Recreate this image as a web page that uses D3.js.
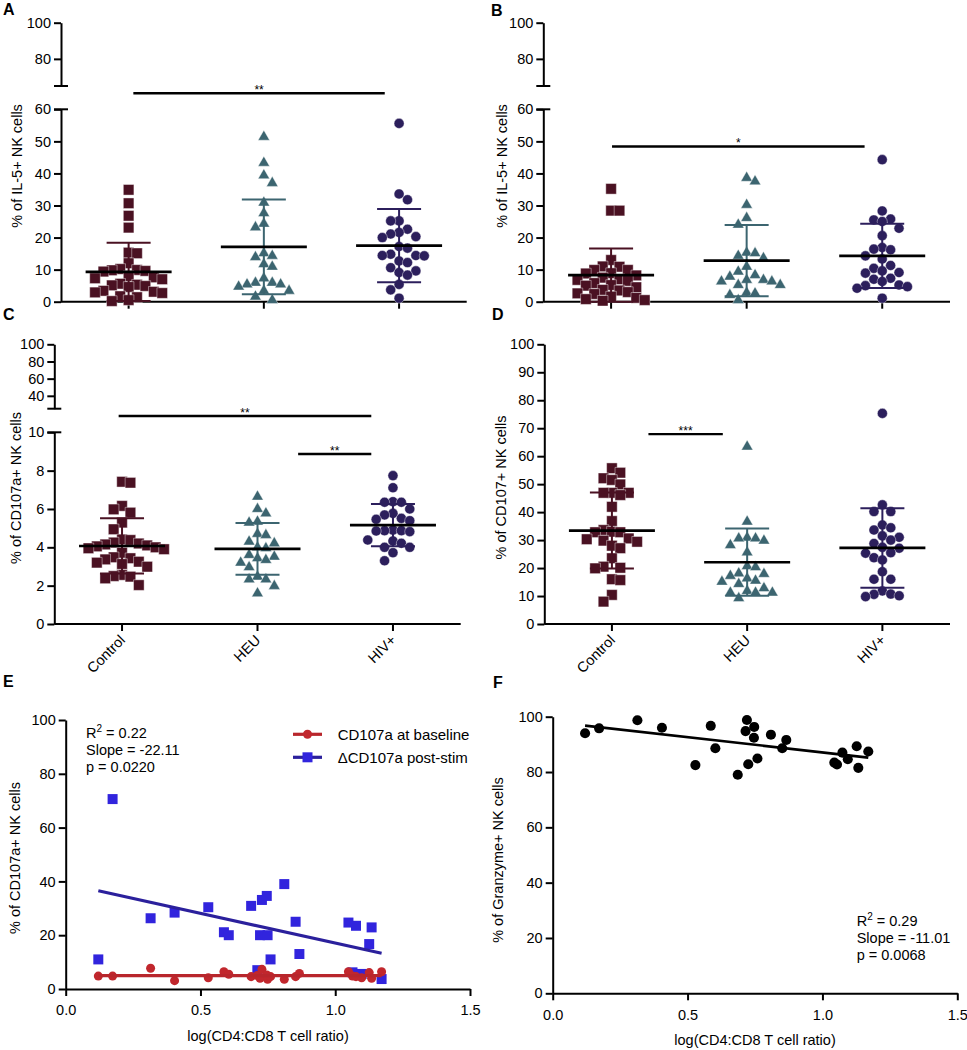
<!DOCTYPE html>
<html><head><meta charset="utf-8">
<script src="https://cdn.jsdelivr.net/npm/d3@7"></script>
<style>body{margin:0;background:#fff} svg{display:block}</style>
</head><body><svg id="c" width="967" height="1050"></svg>
<script>
const FONT = '"Liberation Sans", Arial, Helvetica, sans-serif';
const categories = ["Control", "HEU", "HIV+"];

// ---- Panel A: % of IL-5+ NK cells
const aControl = [34.9, 30.7, 26.8, 23.1, 15.3, 15.1, 12.0, 10.2, 9.9, 9.8, 9.6, 9.4, 8.0, 7.6, 7.3, 7.0, 5.6, 5.3, 5.1, 4.9, 4.6, 3.4, 3.1, 2.9, 2.7, 1.7, 1.4, 0.5, 0.2];
const aHEU = [51.4, 43.3, 39.4, 37.0, 30.9, 27.6, 24.3, 23.2, 15.1, 14.3, 13.9, 11.7, 10.9, 7.3, 5.9, 5.9, 5.4, 5.4, 4.7, 3.4, 3.4, 1.6, 0.5];
const aHIV = [55.6, 33.6, 31.8, 25.2, 25.2, 21.6, 22.6, 20.3, 20.0, 21.1, 16.7, 17.2, 14.4, 14.3, 14.4, 14.8, 12.7, 12.2, 10.6, 9.1, 8.3, 9.6, 5.4, 3.7, 1.1];
const aMean = [9.3, 17.1, 17.5];
const aSD = [9.1, 14.8, 11.4];
const aBrackets = [{from: 0.035, to: 1.894, y: 65, label: "**"}];

// ---- Panel B: % of IL-5+ NK cells
const bControl = [35.2, 28.4, 28.4, 13.0, 11.0, 10.9, 9.9, 9.9, 8.9, 8.8, 8.2, 7.5, 7.0, 6.8, 6.5, 5.8, 5.2, 5.0, 4.5, 3.7, 3.5, 3.0, 2.6, 2.4, 1.6, 1.2, 0.8, 0.5, 0.3];
const bHEU = [38.6, 37.5, 30.2, 26.1, 24.0, 15.1, 15.3, 13.6, 14.3, 10.9, 8.3, 6.8, 6.3, 6.3, 6.8, 7.8, 9.4, 5.2, 5.2, 2.6, 2.8, 2.1, 0.5];
const bHIV = [44.3, 28.3, 25.5, 25.8, 25.0, 22.9, 20.6, 16.4, 16.9, 16.2, 14.3, 13.3, 11.3, 9.6, 8.9, 9.1, 10.4, 7.0, 6.3, 7.3, 5.2, 4.7, 4.2, 5.0, 1.1];
const bMean = [8.3, 12.8, 14.3];
const bSD = [8.3, 11.1, 10.0];
const bBrackets = [{from: 0.007, to: 1.87, y: 48.4, label: "*"}];

// ---- Panel C: % of CD107a+ NK cells
const cControl = [7.42, 7.37, 6.16, 5.98, 5.81, 5.29, 4.94, 4.41, 4.38, 4.25, 4.2, 4.15, 4.1, 4.05, 4.0, 3.95, 3.9, 3.72, 3.43, 3.25, 3.13, 2.99, 3.2, 3.37, 3.48, 2.56, 2.47, 2.38, 2.5, 2.03];
const cHEU = [6.64, 5.77, 6.0, 5.29, 5.34, 4.70, 4.64, 4.30, 4.21, 4.0, 3.95, 3.60, 3.43, 3.51, 3.2, 3.34, 2.96, 2.47, 2.33, 2.33, 1.98, 1.60];
const cHIV = [7.74, 7.11, 6.38, 6.35, 6.35, 6.0, 5.77, 5.69, 5.51, 5.46, 5.39, 4.87, 4.82, 4.9, 4.85, 4.87, 4.38, 4.33, 4.21, 4.0, 4.0, 3.72, 3.3];
const cMean = [4.07, 3.92, 5.16];
const cSD = [1.44, 1.35, 1.1];
const cBrackets = [{from: -0.025, to: 1.84, y: 10.85, label: "**"}, {from: 1.3, to: 1.84, y: 8.87, label: "**"}];

// ---- Panel D: % of CD107+ NK cells
const dControl = [55.7, 54.1, 51.5, 52.1, 49.9, 46.9, 46.9, 46.1, 46.9, 41.9, 36.8, 33.6, 32.8, 32.8, 33.0, 30.6, 29.8, 29.4, 30.3, 28.0, 27.1, 23.5, 20.1, 19.9, 20.5, 16.0, 15.7, 10.4, 8.0];
const dHEU = [63.4, 36.6, 30.6, 29.8, 30.6, 30.9, 28.2, 25.6, 20.3, 20.7, 17.9, 16.3, 17.2, 18.1, 15.5, 14.3, 15.1, 11.8, 11.2, 11.2, 11.2, 12.8, 9.2];
const dHIV = [75.3, 42.6, 40.2, 40.2, 35.4, 33.6, 34.4, 31.0, 30.0, 31.5, 28.8, 27.1, 27.4, 25.3, 25.5, 22.9, 23.7, 18.7, 16.0, 16.0, 11.8, 10.6, 9.8, 10.1, 10.7];
const dMean = [33.4, 22.1, 27.2];
const dSD = [13.6, 12.0, 14.2];
const dBrackets = [{from: 0.27, to: 0.82, y: 67.9, label: "***"}];

// ---- Panel E: CD107a vs log(CD4:CD8)
const eRatio = [0.121, 0.174, 0.315, 0.404, 0.529, 0.587, 0.605, 0.688, 0.711, 0.721, 0.728, 0.746, 0.749, 0.760, 0.811, 0.853, 0.867, 1.049, 1.064, 1.077, 1.098, 1.126, 1.135, 1.172];
const eDelta = [11.0, 70.6, 26.3, 28.4, 30.4, 21.1, 20.0, 30.9, 7.0, 20.0, 33.1, 34.6, 20.0, 11.0, 39.0, 25.0, 13.0, 24.7, 6.2, 23.5, 5.6, 16.7, 22.9, 3.7];
const eBaseline = [4.8, 4.8, 7.7, 3.1, 4.2, 6.4, 5.5, 4.6, 5.0, 4.0, 7.3, 5.2, 3.6, 4.6, 3.6, 4.6, 5.8, 6.4, 4.8, 4.6, 4.2, 6.1, 4.0, 6.4];
const eFitDelta = {slope: -22.11, intercept: 39.2};
const eFitBaseline = {slope: 0.0, intercept: 5.0};
const eSeriesNames = ["CD107a at baseline", "\u0394CD107a post-stim"];
const eStats = ["0.22", "-22.11", "0.0220"];

// ---- Panel F: Granzyme vs log(CD4:CD8)
const fRatio = [0.120, 0.172, 0.314, 0.405, 0.529, 0.586, 0.603, 0.686, 0.715, 0.720, 0.725, 0.746, 0.747, 0.759, 0.809, 0.851, 0.866, 1.044, 1.054, 1.074, 1.094, 1.127, 1.133, 1.170];
const fGranzyme = [94.0, 95.8, 98.7, 96.0, 82.5, 96.7, 88.6, 79.0, 94.8, 98.8, 82.8, 92.4, 96.3, 84.9, 93.5, 88.6, 91.6, 83.4, 82.7, 87.0, 84.6, 89.3, 81.5, 87.4];
const fFit = {slope: -11.01, intercept: 98.1};
const fStats = ["0.29", "-11.01", "0.0068"];

const groupColors = ["#4a1122", "#3c6570", "#2c1f5c"];
const svg = d3.select("#c");
svg.append("rect").attr("width", 967).attr("height", 1050).attr("fill", "#fff");

function styleAxis(ax) {
  ax.attr("font-family", FONT).attr("font-size", 14.5);
  ax.select(".domain").attr("stroke", "#000").attr("stroke-width", 2);
  ax.selectAll(".tick line").attr("stroke", "#000").attr("stroke-width", 2);
  ax.selectAll(".tick text").attr("fill", "#000");
  return ax;
}

// GraphPad-like column scatter: rectangular collision, points spread sideways
function swarm(values, yScale, w, h) {
  const pts = values.map(v => ({v, y: yScale(v)})).sort((a, b) => a.y - b.y);
  const placed = [];
  let side = 1;
  for (const p of pts) {
    const forb = [];
    for (const q of placed) {
      const dy = Math.abs(q.y - p.y);
      if (dy < h) forb.push([q.x - w, q.x + w]);
    }
    const cands = [0];
    forb.forEach(f => cands.push(f[0], f[1]));
    cands.sort((a, b) => (Math.abs(a) - Math.abs(b)) || (side * (b - a)));
    let x = 0;
    for (const c of cands) {
      if (forb.every(f => c <= f[0] + 1e-6 || c >= f[1] - 1e-6)) { x = c; break; }
    }
    if (x !== 0) side = -Math.sign(x);
    p.x = x; placed.push(p);
  }
  return pts;
}

const symbols = [
  d3.symbol(d3.symbolSquare, 112)(),
  d3.symbol(d3.symbolTriangle, 58)(),
  d3.symbol(d3.symbolCircle, 80)()
];

function dotPanel(o) {
  const g = svg.append("g");
  const lower = d3.scaleLinear(o.lowerDomain, o.lowerRange);
  const xp = d3.scalePoint(categories, [o.x0, o.x1]).padding(0.5);
  const xi = d3.scaleLinear([0, 2], [xp(categories[0]), xp(categories[2])]);
  styleAxis(g.append("g").attr("transform", `translate(${o.x0},0)`)
    .call(d3.axisLeft(lower).tickValues(o.lowerTicks).tickSize(7).tickSizeOuter(0).tickPadding(3)));
  if (o.upperDomain) {
    const upper = d3.scaleLinear(o.upperDomain, o.upperRange);
    styleAxis(g.append("g").attr("transform", `translate(${o.x0},0)`)
      .call(d3.axisLeft(upper).tickValues(o.upperTicks).tickSize(7).tickSizeOuter(0).tickPadding(3)));
    [upper(o.upperDomain[0]), lower(o.lowerDomain[1])].forEach(yy => {
      g.append("line").attr("x1", o.x0 - 7).attr("x2", o.x0 + 7).attr("y1", yy).attr("y2", yy)
        .attr("stroke", "#000").attr("stroke-width", 2);
    });
  }
  const y0 = lower(0);
  g.append("line").attr("x1", o.x0).attr("x2", o.x1).attr("y1", y0).attr("y2", y0)
    .attr("stroke", "#000").attr("stroke-width", 2);
  categories.forEach(c => {
    g.append("line").attr("x1", xp(c)).attr("x2", xp(c)).attr("y1", y0).attr("y2", y0 + 7)
      .attr("stroke", "#000").attr("stroke-width", 2);
  });
  if (o.catLabels) {
    categories.forEach(c => {
      g.append("text").attr("transform", `translate(${xp(c) + 4},${y0 + 17}) rotate(-45)`)
        .attr("text-anchor", "end").attr("font-family", FONT).attr("font-size", 14.5).text(c);
    });
  }
  o.groups.forEach((vals, i) => {
    const pts = swarm(vals, lower, 8.4, 10.5);
    g.append("g").selectAll("path").data(pts).join("path")
      .attr("d", symbols[i])
      .attr("transform", d => `translate(${xp(categories[i]) + d.x},${d.y})`)
      .attr("fill", groupColors[i]).attr("stroke", "#fff").attr("stroke-width", 0.6).attr("stroke-opacity", 0.7);
  });
  o.means.forEach((m, i) => {
    const cx = xp(categories[i]);
    const hi = lower(m + o.sds[i]), lo = lower(Math.max(0, m - o.sds[i]));
    const col = groupColors[i];
    g.append("line").attr("x1", cx).attr("x2", cx).attr("y1", hi).attr("y2", lo).attr("stroke", col).attr("stroke-width", 2);
    [hi, lo].forEach(yy => g.append("line").attr("x1", cx - 22).attr("x2", cx + 22).attr("y1", yy).attr("y2", yy)
      .attr("stroke", col).attr("stroke-width", 2));
    g.append("line").attr("x1", cx - 43).attr("x2", cx + 43).attr("y1", lower(m)).attr("y2", lower(m))
      .attr("stroke", "#000").attr("stroke-width", 2.6);
  });
  o.brackets.forEach(b => {
    const yy = lower(b.y);
    g.append("line").attr("x1", xi(b.from)).attr("x2", xi(b.to)).attr("y1", yy).attr("y2", yy)
      .attr("stroke", "#000").attr("stroke-width", 2.4);
    g.append("text").attr("x", (xi(b.from) + xi(b.to)) / 2).attr("y", yy + 1).attr("text-anchor", "middle")
      .attr("font-family", FONT).attr("font-size", 12).text(b.label);
  });
  g.append("text").attr("transform", `translate(${o.titleX},${o.titleY}) rotate(-90)`).attr("text-anchor", "middle")
    .attr("font-family", FONT).attr("font-size", 14.5).text(o.yTitle);
  g.append("text").attr("x", o.letter[1]).attr("y", o.letter[2]).attr("font-family", FONT).attr("font-weight", "bold")
    .attr("font-size", 16).text(o.letter[0]);
}

dotPanel({x0: 61, x1: 466.7, lowerDomain: [0, 60], lowerRange: [301.7, 109.3], lowerTicks: [0, 10, 20, 30, 40, 50, 60],
  upperDomain: [65, 100], upperRange: [86, 22.7], upperTicks: [80, 100],
  groups: [aControl, aHEU, aHIV], means: aMean, sds: aSD, brackets: aBrackets,
  yTitle: "% of IL-5+ NK cells", titleX: 22, titleY: 166, letter: ["A", 3, 15]});
dotPanel({x0: 543.3, x1: 950, lowerDomain: [0, 60], lowerRange: [301.7, 109.3], lowerTicks: [0, 10, 20, 30, 40, 50, 60],
  upperDomain: [65, 100], upperRange: [86, 22.7], upperTicks: [80, 100],
  groups: [bControl, bHEU, bHIV], means: bMean, sds: bSD, brackets: bBrackets,
  yTitle: "% of IL-5+ NK cells", titleX: 506.5, titleY: 166, letter: ["B", 491, 15.5]});
dotPanel({x0: 54.3, x1: 460.7, lowerDomain: [0, 10], lowerRange: [624, 432.3], lowerTicks: [0, 2, 4, 6, 8, 10],
  upperDomain: [25, 100], upperRange: [408.7, 344.3], upperTicks: [40, 60, 80, 100],
  groups: [cControl, cHEU, cHIV], means: cMean, sds: cSD, brackets: cBrackets, catLabels: true,
  yTitle: "% of CD107a+ NK cells", titleX: 20.7, titleY: 488, letter: ["C", 3, 320]});
dotPanel({x0: 544.3, x1: 950, lowerDomain: [0, 100], lowerRange: [624, 344.3], lowerTicks: d3.range(0, 101, 10),
  groups: [dControl, dHEU, dHIV], means: dMean, sds: dSD, brackets: dBrackets, catLabels: true,
  yTitle: "% of CD107+ NK cells", titleX: 506, titleY: 487.5, letter: ["D", 492, 320]});

function scatterAxes(g, x, y, xTitle, yTitle, tx, ty, xtX, xtY) {
  styleAxis(g.append("g").attr("transform", `translate(0,${y.range()[0]})`)
    .call(d3.axisBottom(x).tickValues([0, 0.5, 1, 1.5]).tickFormat(d3.format(".1f")).tickSize(7).tickSizeOuter(0).tickPadding(9)));
  styleAxis(g.append("g").attr("transform", `translate(${x.range()[0]},0)`)
    .call(d3.axisLeft(y).tickValues([0, 20, 40, 60, 80, 100]).tickSize(7).tickSizeOuter(0).tickPadding(3)));
  g.append("text").attr("transform", `translate(${tx},${ty}) rotate(-90)`).attr("text-anchor", "middle")
    .attr("font-family", FONT).attr("font-size", 14.5).text(yTitle);
  g.append("text").attr("x", xtX).attr("y", xtY).attr("text-anchor", "middle")
    .attr("font-family", FONT).attr("font-size", 14.5).text(xTitle);
}
function statsText(g, x, yc, vals) {
  const t = g.append("text").attr("font-family", FONT).attr("font-size", 14.5);
  const l1 = t.append("tspan").attr("x", x).attr("y", yc).attr("dy", "0.35em");
  l1.append("tspan").text("R");
  l1.append("tspan").attr("font-size", 10).attr("dy", "-6").text("2");
  l1.append("tspan").attr("dy", "6").text(" = " + vals[0]);
  t.append("tspan").attr("x", x).attr("y", yc + 17).attr("dy", "0.35em").text("Slope = " + vals[1]);
  t.append("tspan").attr("x", x).attr("y", yc + 34).attr("dy", "0.35em").text("p = " + vals[2]);
}
const red = "#c1272d", redLine = "#b8262c", blue = "#3124dd", blueLine = "#2b209c";

{
  const g = svg.append("g");
  const x = d3.scaleLinear([0, 1.5], [65.7, 470]);
  const y = d3.scaleLinear([0, 100], [989, 720]);
  scatterAxes(g, x, y, "log(CD4:CD8 T cell ratio)", "% of CD107a+ NK cells", 20, 858, 268, 1041);
  const ext = d3.extent(eRatio);
  const line = d3.line().x(d => x(d[0])).y(d => y(d[1]));
  g.append("g").selectAll("path").data(eRatio).join("path")
    .attr("d", d3.symbol(d3.symbolSquare, 100)())
    .attr("transform", (d, i) => `translate(${x(d)},${y(eDelta[i])})`).attr("fill", blue);
  g.append("path").attr("d", line(ext.map(v => [v, eFitDelta.intercept + eFitDelta.slope * v])))
    .attr("stroke", blueLine).attr("stroke-width", 3.2).attr("fill", "none");
  g.append("g").selectAll("path").data(eRatio).join("path")
    .attr("d", d3.symbol(d3.symbolCircle, 64)())
    .attr("transform", (d, i) => `translate(${x(d)},${y(eBaseline[i])})`).attr("fill", red);
  g.append("path").attr("d", line(ext.map(v => [v, eFitBaseline.intercept + eFitBaseline.slope * v])))
    .attr("stroke", redLine).attr("stroke-width", 3.2).attr("fill", "none");
  statsText(g, 86, 733, eStats);
  const leg = [{name: eSeriesNames[0], lc: redLine, fc: red, sym: d3.symbol(d3.symbolCircle, 64)()},
               {name: eSeriesNames[1], lc: blueLine, fc: blue, sym: d3.symbol(d3.symbolSquare, 100)()}];
  leg.forEach((L, i) => {
    const yy = 734.3 + i * 23;
    g.append("line").attr("x1", 293).attr("x2", 322).attr("y1", yy).attr("y2", yy).attr("stroke", L.lc).attr("stroke-width", 3.2);
    g.append("path").attr("d", L.sym).attr("transform", `translate(307.5,${yy})`).attr("fill", L.fc);
    g.append("text").attr("x", 337.7).attr("y", yy).attr("dy", "0.35em").attr("font-family", FONT).attr("font-size", 15).text(L.name);
  });
  g.append("text").attr("x", 3).attr("y", 687).attr("font-family", FONT).attr("font-weight", "bold").attr("font-size", 16).text("E");
}
{
  const g = svg.append("g");
  const x = d3.scaleLinear([0, 1.5], [552.7, 957.3]);
  const y = d3.scaleLinear([0, 100], [993.3, 716.7]);
  scatterAxes(g, x, y, "log(CD4:CD8 T cell ratio)", "% of Granzyme+ NK cells", 503, 860, 755, 1045);
  const ext = d3.extent(fRatio);
  g.append("g").selectAll("path").data(fRatio).join("path")
    .attr("d", d3.symbol(d3.symbolCircle, 80)())
    .attr("transform", (d, i) => `translate(${x(d)},${y(fGranzyme[i])})`).attr("fill", "#000");
  g.append("path").attr("d", d3.line().x(d => x(d[0])).y(d => y(d[1]))(ext.map(v => [v, fFit.intercept + fFit.slope * v])))
    .attr("stroke", "#000").attr("stroke-width", 2.6).attr("fill", "none");
  statsText(g, 856.7, 920.7, fStats);
  g.append("text").attr("x", 493).attr("y", 688).attr("font-family", FONT).attr("font-weight", "bold").attr("font-size", 16).text("F");
}
</script></body></html>
